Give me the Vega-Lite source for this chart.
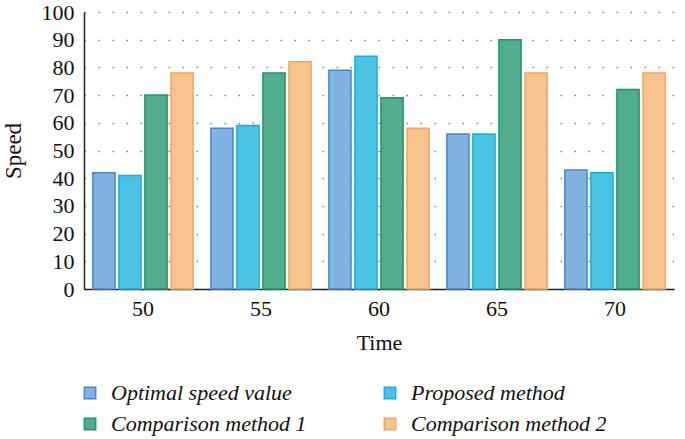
{
  "$schema": "https://vega.github.io/schema/vega-lite/v6.json",
  "width": 590,
  "height": 277,
  "autosize": "none",
  "padding": {"left": 84, "top": 12, "right": 11, "bottom": 150},
  "background": "white",
  "data": {
    "values": [
      {"time": "50", "series": "Optimal speed value", "speed": 42},
      {"time": "50", "series": "Proposed method", "speed": 41},
      {"time": "50", "series": "Comparison method 1", "speed": 70},
      {"time": "50", "series": "Comparison method 2", "speed": 78},
      {"time": "55", "series": "Optimal speed value", "speed": 58},
      {"time": "55", "series": "Proposed method", "speed": 59},
      {"time": "55", "series": "Comparison method 1", "speed": 78},
      {"time": "55", "series": "Comparison method 2", "speed": 82},
      {"time": "60", "series": "Optimal speed value", "speed": 79},
      {"time": "60", "series": "Proposed method", "speed": 84},
      {"time": "60", "series": "Comparison method 1", "speed": 69},
      {"time": "60", "series": "Comparison method 2", "speed": 58},
      {"time": "65", "series": "Optimal speed value", "speed": 56},
      {"time": "65", "series": "Proposed method", "speed": 56},
      {"time": "65", "series": "Comparison method 1", "speed": 90},
      {"time": "65", "series": "Comparison method 2", "speed": 78},
      {"time": "70", "series": "Optimal speed value", "speed": 43},
      {"time": "70", "series": "Proposed method", "speed": 42},
      {"time": "70", "series": "Comparison method 1", "speed": 72},
      {"time": "70", "series": "Comparison method 2", "speed": 78}
    ]
  },
  "mark": {"type": "bar", "strokeWidth": 1.5, "fillOpacity": 1},
  "encoding": {
    "x": {
      "field": "time", "type": "nominal",
      "scale": {"paddingInner": 0.15, "paddingOuter": 0.075},
      "axis": {
        "title": "Time", "labelAngle": 0, "ticks": false, "domainColor": "#222", "domainWidth": 1.5,
        "labelFont": "Liberation Serif", "labelFontSize": 22, "labelColor": "#111", "labelPadding": 9,
        "titleFont": "Liberation Serif", "titleFontSize": 22, "titleFontWeight": "normal", "titleColor": "#111", "titlePadding": 13
      }
    },
    "xOffset": {
      "field": "series", "type": "nominal",
      "sort": ["Optimal speed value", "Proposed method", "Comparison method 1", "Comparison method 2"],
      "scale": {"paddingInner": 0.15}
    },
    "y": {
      "field": "speed", "type": "quantitative",
      "scale": {"domain": [0, 100], "nice": false},
      "axis": {
        "title": "Speed", "values": [0,10,20,30,40,50,60,70,80,90,100], "labelOverlap": false,
        "domainColor": "#222", "domainWidth": 1.5, "ticks": false,
        "labelFont": "Liberation Serif", "labelFontSize": 22, "labelColor": "#111", "labelPadding": 10,
        "titleFont": "Liberation Serif", "titleFontSize": 23, "titleFontWeight": "normal", "titleColor": "#111", "titlePadding": 16,
        "grid": true, "gridColor": "#888", "gridDash": [1.6, 12.4], "gridWidth": 1.6
      }
    },
    "fill": {
      "field": "series", "type": "nominal",
      "scale": {
        "domain": ["Optimal speed value", "Comparison method 1", "Proposed method", "Comparison method 2"],
        "range": ["#80b3e2", "#52ad8f", "#4cc2e4", "#f6c28e"]
      },
      "legend": {
        "title": null, "orient": "none", "legendX": -5, "legendY": 370, "columns": 2, "columnPadding": 72,
        "rowPadding": 9, "symbolType": "square", "symbolSize": 130, "symbolStrokeWidth": 1.5,
        "labelFont": "Liberation Serif", "labelFontStyle": "italic", "labelFontSize": 22, "labelColor": "#111",
        "labelOffset": 10, "labelLimit": 300
      }
    },
    "stroke": {
      "field": "series", "type": "nominal",
      "scale": {
        "domain": ["Optimal speed value", "Comparison method 1", "Proposed method", "Comparison method 2"],
        "range": ["#4a87c9", "#17996d", "#16b0e0", "#f2a858"]
      },
      "legend": null
    }
  },
  "config": {"view": {"stroke": null}}
}
